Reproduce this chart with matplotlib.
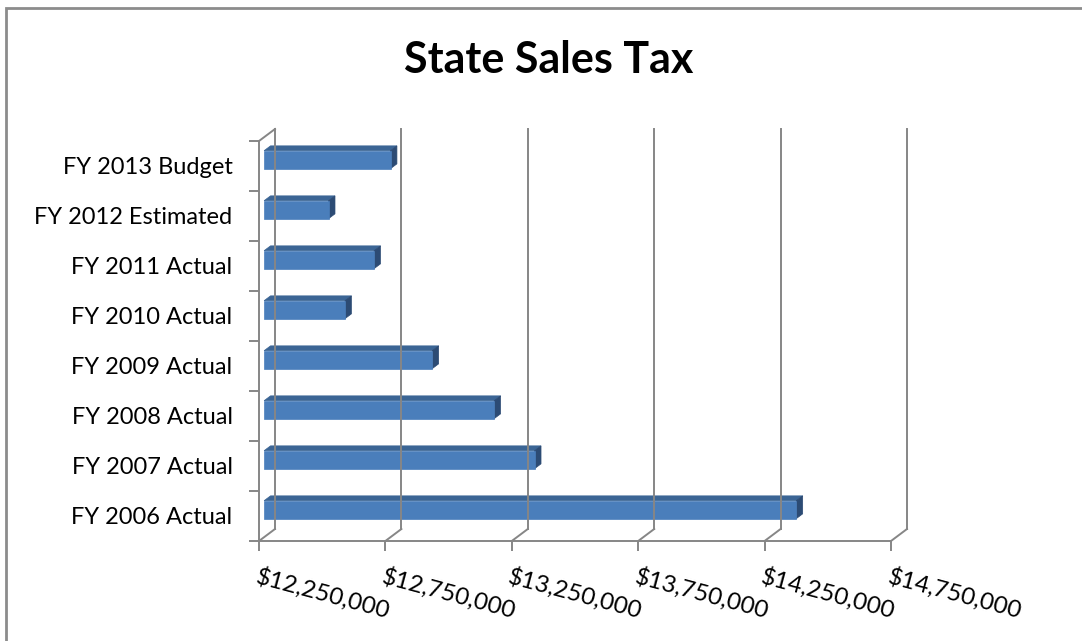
import numpy as np
import matplotlib.pyplot as plt
from matplotlib.patches import Polygon, Rectangle
from matplotlib.lines import Line2D
from matplotlib.transforms import IdentityTransform

plt.rcParams['font.family'] = ['Lato', 'DejaVu Sans']

# fiscal years, bottom to top
categories = ["FY 2006 Actual", "FY 2007 Actual", "FY 2008 Actual", "FY 2009 Actual",
              "FY 2010 Actual", "FY 2011 Actual", "FY 2012 Estimated", "FY 2013 Budget"]
sales_tax = [14355000, 13320000, 13160000, 12915000, 12570000, 12685000, 12505000, 12750000]

x_ticks = [12250000, 12750000, 13250000, 13750000, 14250000, 14750000]
x_labels = ["$12,250,000", "$12,750,000", "$13,250,000", "$13,750,000", "$14,250,000", "$14,750,000"]

DPI = 100
W, H = 1082, 641
DEPTH = np.array([16.0, 12.0])   # pixel shift from front plane to back wall
GRID = '#868686'
FRONT = '#4A7EBB'
TOP = '#3B6595'
SIDE = '#2C4B74'

fig = plt.figure(figsize=(W / DPI, H / DPI), dpi=DPI)
ax = fig.add_axes([259 / W, 100 / H, 632 / W, 400 / H])
ax.set_xlim(x_ticks[0], x_ticks[-1])
ax.set_ylim(-0.5, len(categories) - 0.5)
ax.patch.set_visible(False)


def px(x, y, d=0.0):
    # data point pushed back into the chart by depth fraction d, in display pixels
    return ax.transData.transform((x, y)) + DEPTH * d


def line(p0, p1, **kw):
    ax.add_line(Line2D([p0[0], p1[0]], [p0[1], p1[1]], transform=IdentityTransform(),
                       color=GRID, lw=1.4, clip_on=False, **kw))


y0, y1 = ax.get_ylim()
# back wall gridlines and floor slants
for x in x_ticks:
    line(px(x, y0, 1), px(x, y1, 1))
    line(px(x, y0, 0), px(x, y0, 1))
# top edge of the side wall
line(px(x_ticks[0], y1, 0), px(x_ticks[0], y1, 1))

# 3d-looking bars
d0, d1 = 0.32, 0.72
bar_h = 0.36
lift = 0.05
xmin = x_ticks[0]
for i, v in enumerate(sales_tax):
    lo, hi = i + lift - bar_h / 2, i + lift + bar_h / 2
    front = [px(xmin, lo, d0), px(v, lo, d0), px(v, hi, d0), px(xmin, hi, d0)]
    top = [px(xmin, hi, d0), px(v, hi, d0), px(v, hi, d1), px(xmin, hi, d1)]
    side = [px(v, lo, d0), px(v, lo, d1), px(v, hi, d1), px(v, hi, d0)]
    for verts, c in ((top, TOP), (side, SIDE), (front, FRONT)):
        ax.add_patch(Polygon(verts, closed=True, transform=IdentityTransform(),
                             facecolor=c, edgecolor=c, lw=0.5, clip_on=False))

for s in ('top', 'right'):
    ax.spines[s].set_visible(False)
for s in ('left', 'bottom'):
    ax.spines[s].set_color(GRID)
    ax.spines[s].set_linewidth(1.4)

ax.set_yticks(range(len(categories)), categories)
ax.set_yticks(np.arange(-0.5, len(categories)), minor=True)
ax.tick_params(axis='y', which='major', length=0, pad=19, labelsize=17)
ax.tick_params(axis='y', which='minor', length=7, width=1.4, color=GRID)

ax.set_xticks(x_ticks, x_labels)
ax.tick_params(axis='x', length=7, width=1.4, color=GRID, pad=10, labelsize=17.5)
plt.setp(ax.get_xticklabels(), rotation=-15, ha='left', va='top', rotation_mode='anchor')

fig.text(549 / W, 1 - 60 / H, "State Sales Tax", ha='center', va='center',
         fontsize=31, fontweight='bold')

# chart area border
fig.patches.append(Rectangle((6 / W, -0.1), 1.2, 1.1 - 8 / H, transform=fig.transFigure,
                             fill=False, edgecolor='#8c8c8c', lw=2))

fig.savefig('out.png', dpi=DPI)
